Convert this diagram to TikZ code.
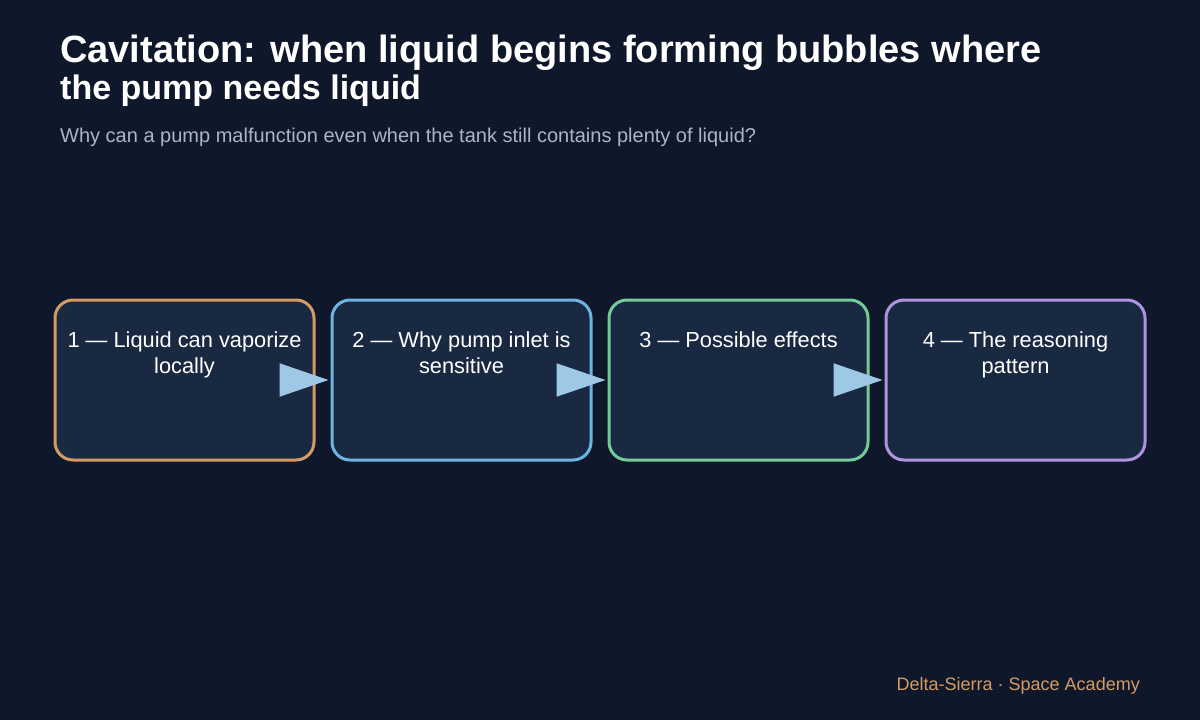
\documentclass[tikz,border=0pt]{standalone}
\usepackage{fontspec}
\setmainfont{Liberation Sans}
\usetikzlibrary{arrows.meta}
\definecolor{bg}{HTML}{0F172A}
\definecolor{boxfill}{HTML}{1A2942}
\definecolor{c1}{HTML}{D39B62}
\definecolor{c2}{HTML}{6DB5E0}
\definecolor{c3}{HTML}{72CB98}
\definecolor{c4}{HTML}{AE94DE}
\definecolor{arrowc}{HTML}{9DC8E6}
\definecolor{subc}{HTML}{A8B6CA}
\definecolor{footc}{HTML}{D49C64}
\tikzset{
  stagebox/.style={draw=#1, fill=boxfill, line width=3pt, rounded corners=18pt,
    minimum width=259pt, minimum height=160pt, inner sep=0pt},
  stagetext/.style={text=white, font=\fontsize{21.8}{26}\selectfont, align=flush center,
    text width=240pt, anchor=north, inner sep=0pt},
  flow/.style={draw=arrowc, line width=2pt, shorten >=2pt,
    -{Triangle[length=49pt,width=33pt,fill=arrowc]}},
}
\begin{document}
\begin{tikzpicture}[x=1pt,y=-1pt]
\fill[bg] (0,0) rectangle (1200,720);
\useasboundingbox (0,0) rectangle (1200,720);
\node[anchor=base west, inner sep=0pt, text=white, font=\fontsize{38}{42}\bfseries\selectfont] (t1) at (60,62) {Cavitation: when liquid begins forming bubbles where};
\node[anchor=base west, inner sep=0pt, text=white, font=\fontsize{34}{38}\bfseries\selectfont] (t2) at (60,99) {the pump needs liquid};
\node[anchor=base west, inner sep=0pt, text=subc, font=\fontsize{20}{24}\selectfont] (sub) at (60,142) {Why can a pump malfunction even when the tank still contains plenty of liquid?};

\node[stagebox=c1] (b1) at (184.5,380) {};
\node[stagebox=c2] (b2) at (461.5,380) {};
\node[stagebox=c3] (b3) at (738.5,380) {};
\node[stagebox=c4] (b4) at (1015.5,380) {};

\node[stagetext] (l1) at ([yshift=-33pt]b1.north) {1 — Liquid can vaporize locally};
\node[stagetext] (l2) at ([yshift=-33pt]b2.north) {2 — Why pump inlet is sensitive};
\node[stagetext] (l3) at ([yshift=-33pt]b3.north) {3 — Possible effects};
\node[stagetext] (l4) at ([yshift=-33pt]b4.north) {4 — The reasoning pattern};

\draw[flow] (b1.east) -- (b2.west);
\draw[flow] (b2.east) -- (b3.west);
\draw[flow] (b3.east) -- (b4.west);

\node[anchor=base east, inner sep=0pt, text=footc, font=\fontsize{18}{22}\selectfont] (foot) at (1140,690) {Delta-Sierra · Space Academy};
\end{tikzpicture}
\end{document}
